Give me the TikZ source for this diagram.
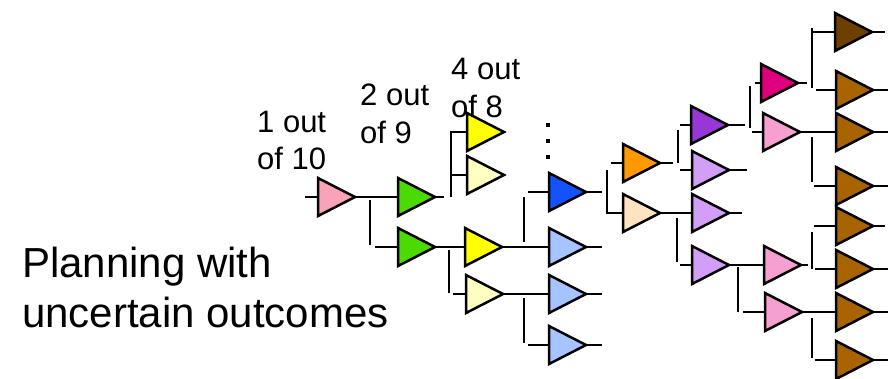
\documentclass[tikz,border=0pt]{standalone}
\usepackage{fontspec}
\setmainfont{Liberation Sans}
\definecolor{cpink}{RGB}{250,162,182}
\definecolor{cgreen}{RGB}{76,219,0}
\definecolor{cyellow}{RGB}{255,255,0}
\definecolor{clyellow}{RGB}{255,255,192}
\definecolor{cdblue}{RGB}{20,82,255}
\definecolor{clblue}{RGB}{166,196,255}
\definecolor{corange}{RGB}{255,153,0}
\definecolor{cpeach}{RGB}{253,227,192}
\definecolor{cdpurple}{RGB}{152,55,216}
\definecolor{clpurple}{RGB}{210,158,248}
\definecolor{cmagenta}{RGB}{224,0,127}
\definecolor{cpink2}{RGB}{245,160,208}
\definecolor{cdbrown}{RGB}{110,64,0}
\definecolor{cbrown}{RGB}{168,100,0}
\tikzset{
  tri/.pic={
    \draw[fill=#1, line width=2.5pt, line join=miter] (0,-19) -- (37,0) -- (0,19) -- cycle;
    \coordinate (-in) at (0,0);
    \coordinate (-out) at (37,0);
  },
  wire/.style={line width=2.5pt},
  smalllbl/.style={anchor=base west, inner sep=0pt, font=\fontsize{31}{37}\selectfont},
  biglbl/.style={anchor=base west, inner sep=0pt, font=\fontsize{42}{50}\selectfont},
  dotmark/.style={fill=black, minimum size=4.5pt, inner sep=0pt, draw=none}
}
\begin{document}
\begin{tikzpicture}[x=1pt,y=-1pt]
\useasboundingbox (0,0) rectangle (888,378);
% free ends
\coordinate (s0) at (305,197);
\coordinate (v1a) at (370,200); \coordinate (v1b) at (370,245); \coordinate (h1) at (375,247);
\coordinate (e1) at (444,197);
\coordinate (v2a) at (451,132); \coordinate (v2b) at (451,197); \coordinate (h2) at (451,175);
\coordinate (v3a) at (449,250); \coordinate (v3b) at (449,293); \coordinate (h3) at (453,294);
\coordinate (v4a) at (524,197); \coordinate (v4b) at (524,242); \coordinate (h4) at (528,192);
\coordinate (v5a) at (524,298); \coordinate (v5b) at (524,343); \coordinate (h5) at (528,345);
\coordinate (eb0) at (602,192); \coordinate (elb1) at (602,247); \coordinate (elb2) at (602,294); \coordinate (elb3) at (602,345);
\coordinate (v6a) at (607,170); \coordinate (v6b) at (607,213); \coordinate (h6) at (611,163);
\coordinate (eo) at (673,163);
\coordinate (v7a) at (678,130); \coordinate (v7b) at (678,163); \coordinate (h7a) at (680,125); \coordinate (h7b) at (680,170);
\coordinate (v8a) at (677,218); \coordinate (v8b) at (677,262); \coordinate (h8) at (680,265);
\coordinate (edp) at (745,125); \coordinate (elp1) at (747,170); \coordinate (elp2) at (742,213);
\coordinate (v9a) at (750,86); \coordinate (v9b) at (750,128); \coordinate (h9a) at (755,83); \coordinate (h9b) at (752,132);
\coordinate (emg) at (807,83);
\coordinate (v10a) at (812,28); \coordinate (v10b) at (812,88); \coordinate (h10a) at (813,32); \coordinate (h10b) at (816,90);
\coordinate (edb) at (885,32); \coordinate (ebr1) at (888,90); \coordinate (ebr2) at (888,132); \coordinate (ebr3) at (888,186);
\coordinate (v11a) at (812,137); \coordinate (v11b) at (812,182); \coordinate (h11) at (814,186);
\coordinate (v12a) at (738,267); \coordinate (v12b) at (738,312); \coordinate (h12) at (743,312);
\coordinate (epk2) at (808,265);
\coordinate (v13a) at (812,232); \coordinate (v13b) at (812,269); \coordinate (h13a) at (814,226); \coordinate (h13b) at (815,269);
\coordinate (ebr4) at (885,226); \coordinate (ebr5) at (888,269); \coordinate (ebr6) at (888,312); \coordinate (ebr7) at (888,360);
\coordinate (v14a) at (812,318); \coordinate (v14b) at (812,358); \coordinate (h14) at (815,360);
% triangles
\pic (p1) at (318,197) {tri=cpink};
\pic (g1) at (398,197) {tri=cgreen};
\pic (g2) at (398,247) {tri=cgreen};
\pic (y1) at (467,132) {tri=cyellow};
\pic (ly1) at (467,175) {tri=clyellow};
\pic (y2) at (465,247) {tri=cyellow};
\pic (ly2) at (466,294) {tri=clyellow};
\pic (b0) at (549,192) {tri=cdblue};
\pic (lb1) at (549,247) {tri=clblue};
\pic (lb2) at (549,294) {tri=clblue};
\pic (lb3) at (549,345) {tri=clblue};
\pic (o) at (623,163) {tri=corange};
\pic (pe) at (623,213) {tri=cpeach};
\pic (dp) at (691,125) {tri=cdpurple};
\pic (lp1) at (692,170) {tri=clpurple};
\pic (lp2) at (692,213) {tri=clpurple};
\pic (lp3) at (692,265) {tri=clpurple};
\pic (mg) at (761,83) {tri=cmagenta};
\pic (pk1) at (763,132) {tri=cpink2};
\pic (pk2) at (764,265) {tri=cpink2};
\pic (pk3) at (765,312) {tri=cpink2};
\pic (db) at (835,32) {tri=cdbrown};
\pic (br1) at (836,90) {tri=cbrown};
\pic (br2) at (836,132) {tri=cbrown};
\pic (br3) at (836,186) {tri=cbrown};
\pic (br4) at (836,226) {tri=cbrown};
\pic (br5) at (836,269) {tri=cbrown};
\pic (br6) at (836,312) {tri=cbrown};
\pic (br7) at (836,360) {tri=cbrown};
% connectors
\begin{scope}[wire]
\draw (s0) -- (p1-in);
\draw (p1-out) -- (g1-in);
\draw (v1a) -- (v1b); \draw (h1) -- (g2-in);
\draw (g1-out) -- (e1);
\draw (y1-in) -- (v2a) -- (v2b); \draw (h2) -- (ly1-in);
\draw (g2-out) -- (y2-in);
\draw (v3a) -- (v3b); \draw (h3) -- (ly2-in);
\draw (y2-out) -- (lb1-in);
\draw (ly2-out) -- (lb2-in);
\draw (v4a) -- (v4b); \draw (h4) -- (b0-in);
\draw (v5a) -- (v5b); \draw (h5) -- (lb3-in);
\draw (b0-out) -- (eb0); \draw (lb1-out) -- (elb1); \draw (lb2-out) -- (elb2); \draw (lb3-out) -- (elb3);
\draw (v6a) -- (v6b) -- (pe-in); \draw (h6) -- (o-in);
\draw (o-out) -- (eo);
\draw (v7a) -- (v7b); \draw (h7a) -- (dp-in); \draw (h7b) -- (lp1-in);
\draw (pe-out) -- (lp2-in);
\draw (v8a) -- (v8b); \draw (h8) -- (lp3-in);
\draw (dp-out) -- (edp); \draw (lp1-out) -- (elp1); \draw (lp2-out) -- (elp2);
\draw (v9a) -- (v9b); \draw (h9a) -- (mg-in); \draw (h9b) -- (pk1-in);
\draw (mg-out) -- (emg);
\draw (v10a) -- (v10b); \draw (h10a) -- (db-in); \draw (h10b) -- (br1-in);
\draw (db-out) -- (edb); \draw (br1-out) -- (ebr1);
\draw (pk1-out) -- (br2-in); \draw (br2-out) -- (ebr2);
\draw (v11a) -- (v11b); \draw (h11) -- (br3-in); \draw (br3-out) -- (ebr3);
\draw (lp3-out) -- (pk2-in);
\draw (v12a) -- (v12b); \draw (h12) -- (pk3-in);
\draw (pk2-out) -- (epk2);
\draw (v13a) -- (v13b); \draw (h13a) -- (br4-in); \draw (h13b) -- (br5-in);
\draw (br4-out) -- (ebr4); \draw (br5-out) -- (ebr5);
\draw (pk3-out) -- (br6-in); \draw (br6-out) -- (ebr6);
\draw (v14a) -- (v14b); \draw (h14) -- (br7-in); \draw (br7-out) -- (ebr7);
\end{scope}
% dots
\node[dotmark] (d1) at (548,125) {};
\node[dotmark] (d2) at (548,141) {};
\node[dotmark] (d3) at (548,157) {};
% labels
\node[smalllbl] (t1a) at (257,132) {1 out};
\node[smalllbl] (t1b) at (257,169) {of 10};
\node[smalllbl] (t2a) at (360,105) {2 out};
\node[smalllbl] (t2b) at (360,143) {of 9};
\node[smalllbl] (t3a) at (451,79) {4 out};
\node[smalllbl] (t3b) at (451,117) {of 8};
\node[biglbl] (t4a) at (22,277) {Planning with};
\node[biglbl] (t4b) at (22,327) {uncertain outcomes};
\end{tikzpicture}
\end{document}
